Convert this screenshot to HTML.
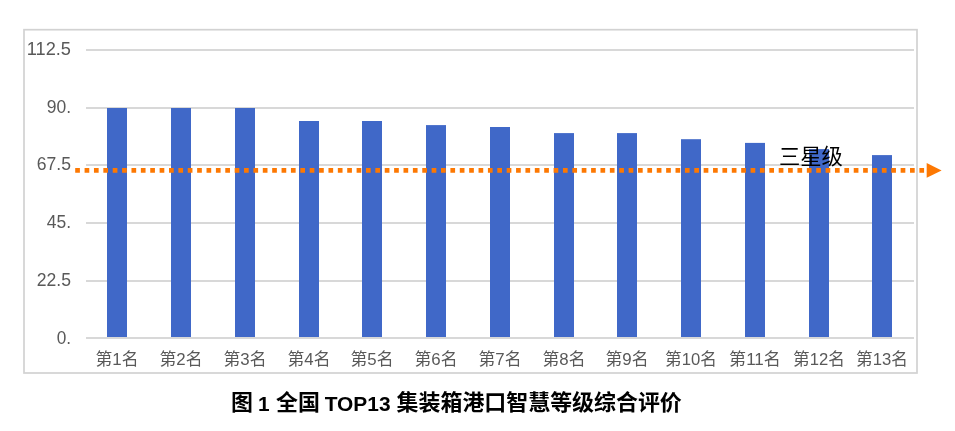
<!DOCTYPE html>
<html lang="zh-CN">
<head>
<meta charset="utf-8">
<title>图 1 全国 TOP13 集装箱港口智慧等级综合评价</title>
<style>
html,body{margin:0;padding:0;background:#fff;overflow:hidden}
svg{display:block;will-change:transform}
text{font-family:"Liberation Sans","Noto Sans CJK SC",sans-serif}
</style>
</head>
<body>
<svg width="955" height="431" viewBox="0 0 955 431">
<rect x="24.0" y="29.7" width="893.0" height="343.3" fill="#fff" stroke="#d2d2d2" stroke-width="1.7"/>
<g stroke="#d8d8d8" stroke-width="2.0">
<line x1="86.0" x2="914.0" y1="49.90" y2="49.90"/>
<line x1="86.0" x2="914.0" y1="108.05" y2="108.05"/>
<line x1="86.0" x2="914.0" y1="164.90" y2="164.90"/>
<line x1="86.0" x2="914.0" y1="223.00" y2="223.00"/>
<line x1="86.0" x2="914.0" y1="280.95" y2="280.95"/>
<line x1="86.0" x2="914.0" y1="337.90" y2="337.90"/>
</g>
<g fill="#4068c8">
<rect x="107.00" y="108" width="20" height="229.50"/>
<rect x="171.00" y="108" width="20" height="229.50"/>
<rect x="235.00" y="108" width="20" height="229.50"/>
<rect x="299.00" y="121" width="20" height="216.50"/>
<rect x="362.00" y="121" width="20" height="216.50"/>
<rect x="426.00" y="125.1" width="20" height="212.40"/>
<rect x="490.00" y="127" width="20" height="210.50"/>
<rect x="554.00" y="133.1" width="20" height="204.40"/>
<rect x="617.00" y="133.1" width="20" height="204.40"/>
<rect x="681.00" y="139.2" width="20" height="198.30"/>
<rect x="745.00" y="142.9" width="20" height="194.60"/>
<rect x="809.00" y="149.1" width="20" height="188.40"/>
<rect x="872.00" y="155.1" width="20" height="182.40"/>
</g>
<line x1="86.0" x2="914.0" y1="337.90" y2="337.90" stroke="#d8d8d8" stroke-width="2.0"/>
<g font-size="18.8" fill="#595959" text-anchor="end">
<text x="71.0" y="54.80" textLength="44.20" lengthAdjust="spacingAndGlyphs">112.5</text>
<text x="71.0" y="112.54" textLength="24.30" lengthAdjust="spacingAndGlyphs">90.</text>
<text x="71.0" y="170.28" textLength="34.25" lengthAdjust="spacingAndGlyphs">67.5</text>
<text x="71.0" y="228.02" textLength="24.30" lengthAdjust="spacingAndGlyphs">45.</text>
<text x="71.0" y="285.76" textLength="34.25" lengthAdjust="spacingAndGlyphs">22.5</text>
<text x="71.0" y="343.50" textLength="14.35" lengthAdjust="spacingAndGlyphs">0.</text>
</g>
<g fill="#595959" font-size="17.1">
<text x="95.50" y="364.80" textLength="43.00" lengthAdjust="spacingAndGlyphs">第1名</text>
<text x="159.50" y="364.80" textLength="43.00" lengthAdjust="spacingAndGlyphs">第2名</text>
<text x="223.50" y="364.80" textLength="43.00" lengthAdjust="spacingAndGlyphs">第3名</text>
<text x="287.50" y="364.80" textLength="43.00" lengthAdjust="spacingAndGlyphs">第4名</text>
<text x="350.50" y="364.80" textLength="43.00" lengthAdjust="spacingAndGlyphs">第5名</text>
<text x="414.50" y="364.80" textLength="43.00" lengthAdjust="spacingAndGlyphs">第6名</text>
<text x="478.50" y="364.80" textLength="43.00" lengthAdjust="spacingAndGlyphs">第7名</text>
<text x="542.50" y="364.80" textLength="43.00" lengthAdjust="spacingAndGlyphs">第8名</text>
<text x="605.50" y="364.80" textLength="43.00" lengthAdjust="spacingAndGlyphs">第9名</text>
<text x="665.10" y="364.80" textLength="51.80" lengthAdjust="spacingAndGlyphs">第10名</text>
<text x="729.10" y="364.80" textLength="51.80" lengthAdjust="spacingAndGlyphs">第11名</text>
<text x="793.10" y="364.80" textLength="51.80" lengthAdjust="spacingAndGlyphs">第12名</text>
<text x="856.10" y="364.80" textLength="51.80" lengthAdjust="spacingAndGlyphs">第13名</text>
</g>
<text x="778.97" y="164.25" font-size="21.3" fill="#000" textLength="63.9" lengthAdjust="spacingAndGlyphs">三星级</text>
<line x1="75.2" x2="924.2" y1="170.4" y2="170.4" stroke="#fd7802" stroke-width="4.7" stroke-dasharray="4.69 4.69"/>
<path d="M926.7 163.1L941.6 170.4L926.7 177.70000000000002Z" fill="#fd7802"/>
<g fill="#000" font-size="20.8" font-weight="bold">
<text x="230.90" y="409.80" font-size="21.94">图</text>
<text x="257.9" y="410.6">1</text>
<text x="276.10" y="409.80" font-size="21.94" textLength="43.88" lengthAdjust="spacingAndGlyphs">全国</text>
<text x="324.7" y="410.6" textLength="65.9" lengthAdjust="spacingAndGlyphs">TOP13</text>
<text x="396.60" y="409.80" font-size="21.94" textLength="285.22" lengthAdjust="spacingAndGlyphs">集装箱港口智慧等级综合评价</text>
</g>
</svg>
</body>
</html>
